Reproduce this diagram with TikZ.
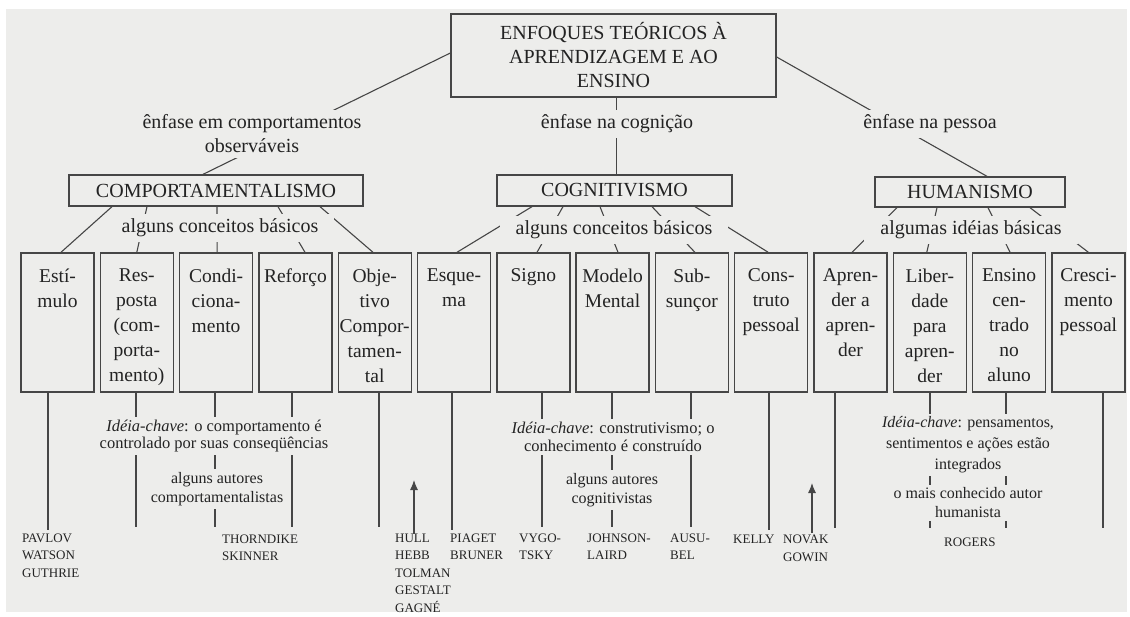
\documentclass[tikz,border=0pt]{standalone}
\usepackage{fontspec}
\setmainfont{Liberation Serif}
\usetikzlibrary{arrows.meta}
\definecolor{bg}{RGB}{237,237,235}
\definecolor{ink}{RGB}{35,35,35}
\definecolor{lnc}{RGB}{70,70,70}
\begin{document}
\begin{tikzpicture}[x=1pt,y=-1pt,
  every node/.style={text=ink},
  conn/.style={draw=lnc,line width=1.1pt},
  bigframe/.style={draw=lnc,line width=1.3pt,inner sep=0pt},
  cbox/.style={draw=lnc,line width=1.4pt,minimum width=73pt,minimum height=139pt,inner sep=0pt},
  ctext/.style={anchor=north,align=center,inner sep=0pt,font=\fontsize{19.5}{25}\selectfont},
  bigfont/.style={font=\fontsize{20}{24}\selectfont},
  labtext/.style={fill=bg,align=center,inner xsep=16pt,inner ysep=5pt},
  keytext/.style={fill=bg,align=center,inner xsep=5pt,inner ysep=3pt},
  keyfont/.style={font=\fontsize{16.5}{17.5}\selectfont},
  autfont/.style={font=\fontsize{16}{18.5}\selectfont},
  authtext/.style={anchor=north west,align=left,inner sep=0pt,font=\fontsize{13}{17.5}\selectfont},
  uparrow/.style={conn,-{Latex[length=10pt,width=8pt]}}
]
\fill[white] (0,0) rectangle (1130,617);
\fill[bg] (6,9) rectangle (1127,612);
\path[use as bounding box] (0,0) rectangle (1130,617);

% top level
\node[bigframe,bigfont,align=center,minimum width=325pt,minimum height=83pt] (main) at (613.5,55.5) {ENFOQUES TEÓRICOS À\\APRENDIZAGEM E AO\\ENSINO};
\node[bigframe,bigfont,minimum width=294pt,minimum height=31pt] (comp) at (216,190.5) {COMPORTAMENTALISMO};
\node[bigframe,bigfont,minimum width=235pt,minimum height=31pt] (cog) at (614.5,190.5) {COGNITIVISMO};
\node[bigframe,bigfont,minimum width=190pt,minimum height=30pt] (hum) at (970,192) {HUMANISMO};

\draw[conn] ([yshift=2.5pt]main.west) -- ([xshift=-13pt]comp.north);
\draw[conn] ([xshift=3pt]main.south) -- ([xshift=2pt]cog.north);
\draw[conn] ([yshift=-1.5pt]main.east) -- ([xshift=17pt]hum.north);
\node[labtext,bigfont] (lcomp) at (252,134) {ênfase em comportamentos\\observáveis};
\node[labtext,bigfont] (lcog) at (617,124) {ênfase na cognição};
\node[labtext,bigfont] (lhum) at (930,124) {ênfase na pessoa};

% concept boxes
\node[cbox] (b1) at (57.5,322.5) {};
\node[cbox] (b2) at (136.8,322.5) {};
\node[cbox] (b3) at (216.1,322.5) {};
\node[cbox] (b4) at (295.4,322.5) {};
\node[cbox] (b5) at (374.7,322.5) {};
\node[cbox] (b6) at (454.0,322.5) {};
\node[cbox] (b7) at (533.3,322.5) {};
\node[cbox] (b8) at (612.6,322.5) {};
\node[cbox] (b9) at (691.9,322.5) {};
\node[cbox] (b10) at (771.2,322.5) {};
\node[cbox] (b11) at (850.5,322.5) {};
\node[cbox] (b12) at (929.8,322.5) {};
\node[cbox] (b13) at (1009.1,322.5) {};
\node[cbox] (b14) at (1088.4,322.5) {};

\node[ctext] (t1) at ([yshift=-16pt]b1.north) {Estí-\\mulo};
\node[ctext] (t2) at ([yshift=-16pt]b2.north) {Res-\\posta\\(com-\\porta-\\mento)};
\node[ctext] (t3) at ([yshift=-16pt]b3.north) {Condi-\\ciona-\\mento};
\node[ctext] (t4) at ([yshift=-16pt]b4.north) {Reforço};
\node[ctext] (t5) at ([yshift=-16pt]b5.north) {Obje-\\tivo\\Compor-\\tamen-\\tal};
\node[ctext] (t6) at ([yshift=-16pt]b6.north) {Esque-\\ma};
\node[ctext] (t7) at ([yshift=-16pt]b7.north) {Signo};
\node[ctext] (t8) at ([yshift=-16pt]b8.north) {Modelo\\Mental};
\node[ctext] (t9) at ([yshift=-16pt]b9.north) {Sub-\\sunçor};
\node[ctext] (t10) at ([yshift=-16pt]b10.north) {Cons-\\truto\\pessoal};
\node[ctext] (t11) at ([yshift=-16pt]b11.north) {Apren-\\der a\\apren-\\der};
\node[ctext] (t12) at ([yshift=-16pt]b12.north) {Liber-\\dade\\para\\apren-\\der};
\node[ctext] (t13) at ([yshift=-16pt]b13.north) {Ensino\\cen-\\trado\\no\\aluno};
\node[ctext] (t14) at ([yshift=-16pt]b14.north) {Cresci-\\mento\\pessoal};

% category -> concept connectors
\draw[conn] ([xshift=-104pt]comp.south) -- ([xshift=3.5pt]b1.north);
\draw[conn] ([xshift=-69pt]comp.south) -- (b2.north);
\draw[conn] ([xshift=1pt]comp.south) -- ([xshift=1pt]b3.north);
\draw[conn] ([xshift=62pt]comp.south) -- ([xshift=9.6pt]b4.north);
\draw[conn] ([xshift=104pt]comp.south) -- ([xshift=-1.7pt]b5.north);
\node[labtext,bigfont] (kcomp) at (220,228) {alguns conceitos básicos};

\draw[conn] ([xshift=-82.5pt]cog.south) -- ([xshift=3pt]b6.north);
\draw[conn] ([xshift=-51.5pt]cog.south) -- ([xshift=3.7pt]b7.north);
\draw[conn] ([xshift=-14.5pt]cog.south) -- ([xshift=5.4pt]b8.north);
\draw[conn] ([xshift=37.5pt]cog.south) -- ([xshift=3pt]b9.north);
\draw[conn] ([xshift=80.5pt]cog.south) -- ([xshift=-3pt]b10.north);
\node[labtext,bigfont] (kcog) at (614,230) {alguns conceitos básicos};

\draw[conn] ([xshift=-73pt]hum.south) -- ([xshift=1.5pt]b11.north);
\draw[conn] ([xshift=-33pt]hum.south) -- ([xshift=-3pt]b12.north);
\draw[conn] ([xshift=18pt]hum.south) -- ([xshift=1pt]b13.north);
\draw[conn] ([xshift=60pt]hum.south) -- (b14.north);
\node[labtext,bigfont] (khum) at (971,230) {algumas idéias básicas};

% lower connectors
\coordinate (e1) at (48,530);
\coordinate (e2) at (136,527);
\coordinate (e3) at (215,527);
\coordinate (e4) at (292,527);
\coordinate (e5) at (379,527);
\coordinate (e6) at (452,530);
\coordinate (e7) at (542,527);
\coordinate (e8) at (612,527);
\coordinate (e9) at (691,527);
\coordinate (e10) at (769,530);
\coordinate (e11) at (835,528);
\coordinate (e12) at (930,528);
\coordinate (e13) at (1006,528);
\coordinate (e14) at (1103,528);
\foreach \i in {1,...,14} \draw[conn] (b\i.south -| e\i) -- (e\i);

\node[keytext,keyfont] (icomp) at (214,436) {\textit{Idéia-chave}: o comportamento é\\controlado por suas conseqüências};
\node[keytext,autfont] (acomp) at (217,489) {alguns autores\\comportamentalistas};
\node[keytext,keyfont] (icog) at (613,437) {\textit{Idéia-chave}: construtivismo; o\\conhecimento é construído};
\node[keytext,autfont] (acog) at (612,490) {alguns autores\\cognitivistas};
\node[keytext,font=\fontsize{16}{21}\selectfont] (ihum) at (968,445) {\textit{Idéia-chave}: pensamentos,\\sentimentos e ações estão\\integrados};
\node[keytext,font=\fontsize{16}{19}\selectfont] (ahum) at (968,503) {o mais conhecido autor\\humanista};

% authors
\node[authtext] (pav) at (22,533.5) {PAVLOV\\WATSON\\GUTHRIE};
\node[authtext] (thor) at (222,534.5) {THORNDIKE\\SKINNER};
\node[authtext] (hull) at (395,533.5) {HULL\\HEBB\\TOLMAN\\GESTALT\\GAGNÉ};
\node[authtext] (piag) at (450,533.5) {PIAGET\\BRUNER};
\node[authtext] (vyg) at (519,533.5) {VYGO-\\TSKY};
\node[authtext] (john) at (587,533.5) {JOHNSON-\\LAIRD};
\node[authtext] (ausu) at (670,533.5) {AUSU-\\BEL};
\node[authtext] (kelly) at (733,534.5) {KELLY};
\node[authtext] (novak) at (783,535) {NOVAK\\GOWIN};
\node[authtext] (rogers) at (944,538) {ROGERS};

\coordinate (h1) at (414,480);
\coordinate (h2) at (812,483);
\draw[uparrow] (hull.north -| h1) -- (h1);
\draw[uparrow] ([yshift=2pt]novak.north -| h2) -- (h2);
\end{tikzpicture}
\end{document}
